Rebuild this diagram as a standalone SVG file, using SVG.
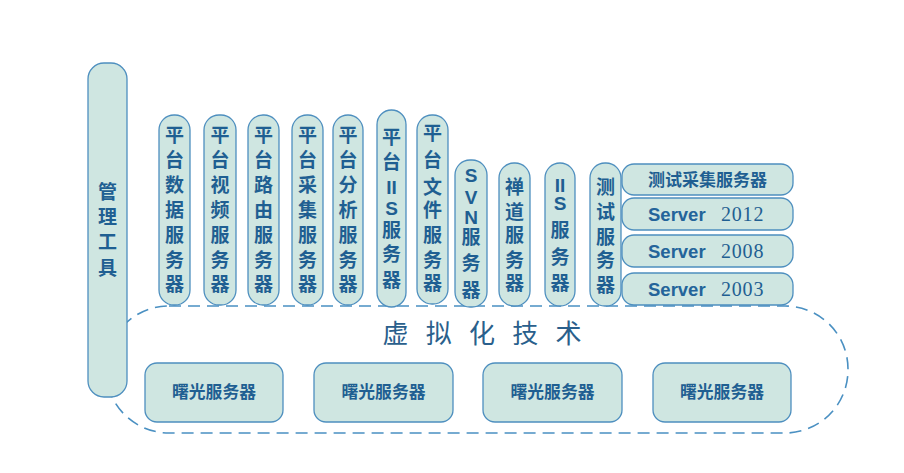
<svg xmlns="http://www.w3.org/2000/svg" width="904" height="473" viewBox="0 0 904 473">
<style>
.pill{fill:#cfe6e1;stroke:#4e8fbf;stroke-width:1.3}
.v{font-family:"Noto Sans CJK SC","Liberation Sans",sans-serif;font-weight:bold;font-size:19px;fill:#1f5f92;text-anchor:middle}
.l{font-family:"Liberation Sans","Noto Sans CJK SC",sans-serif;font-weight:bold;font-size:19px;fill:#1f5f92;text-anchor:middle}
.h{font-family:"Noto Sans CJK SC",sans-serif;font-weight:bold;font-size:17px;fill:#1f5f92;text-anchor:middle}
.srv{font-family:"Liberation Sans",sans-serif;font-weight:bold;font-size:18.5px;fill:#24649a}
.num{font-family:"Liberation Serif",serif;font-size:20px;fill:#1f5f92;letter-spacing:0.8px}
.b{font-family:"Noto Sans CJK SC",sans-serif;font-weight:bold;font-size:16.8px;fill:#1f5f92;text-anchor:middle}
.title{font-family:"Noto Sans CJK SC",sans-serif;font-size:26px;fill:#2a5f8c;text-anchor:middle}
</style>
<rect width="904" height="473" fill="#ffffff"/>
<g id="connectors">
<rect x="106" y="306" width="742" height="127" rx="63" ry="63" fill="none" stroke="#4a90c2" stroke-width="1.6" stroke-dasharray="12 7"/>
</g>
<g id="virtualization"><text class="title" y="343"><tspan x="395.5">虚</tspan><tspan x="438.8">拟</tspan><tspan x="482">化</tspan><tspan x="525.2">技</tspan><tspan x="568.5">术</tspan></text></g>
<g id="mgmt">
<rect class="pill" x="88" y="63" width="39" height="334" rx="16"/>
<text class="v" x="107.5"><tspan x="107.5" y="199">管</tspan><tspan x="107.5" y="224">理</tspan><tspan x="107.5" y="249">工</tspan><tspan x="107.5" y="275">具</tspan></text>
</g>
<g id="p1">
<rect class="pill" x="159" y="115" width="31" height="190" rx="15"/>
<text class="v"><tspan x="174.5" y="142">平</tspan><tspan x="174.5" y="167">台</tspan><tspan x="174.5" y="192">数</tspan><tspan x="174.5" y="217">据</tspan><tspan x="174.5" y="242">服</tspan><tspan x="174.5" y="267">务</tspan><tspan x="174.5" y="291">器</tspan></text>
</g>
<g id="p2">
<rect class="pill" x="204" y="115" width="32" height="190" rx="15"/>
<text class="v"><tspan x="220" y="142">平</tspan><tspan x="220" y="167">台</tspan><tspan x="220" y="192">视</tspan><tspan x="220" y="217">频</tspan><tspan x="220" y="242">服</tspan><tspan x="220" y="267">务</tspan><tspan x="220" y="291">器</tspan></text>
</g>
<g id="p3">
<rect class="pill" x="248" y="115" width="31" height="190" rx="15"/>
<text class="v"><tspan x="263.5" y="142">平</tspan><tspan x="263.5" y="167">台</tspan><tspan x="263.5" y="192">路</tspan><tspan x="263.5" y="217">由</tspan><tspan x="263.5" y="242">服</tspan><tspan x="263.5" y="267">务</tspan><tspan x="263.5" y="291">器</tspan></text>
</g>
<g id="p4">
<rect class="pill" x="292" y="115" width="31" height="190" rx="15"/>
<text class="v"><tspan x="307.5" y="142">平</tspan><tspan x="307.5" y="167">台</tspan><tspan x="307.5" y="192">采</tspan><tspan x="307.5" y="217">集</tspan><tspan x="307.5" y="242">服</tspan><tspan x="307.5" y="267">务</tspan><tspan x="307.5" y="291">器</tspan></text>
</g>
<g id="p5">
<rect class="pill" x="333" y="115" width="30" height="190" rx="15"/>
<text class="v"><tspan x="348" y="142">平</tspan><tspan x="348" y="167">台</tspan><tspan x="348" y="192">分</tspan><tspan x="348" y="217">析</tspan><tspan x="348" y="242">服</tspan><tspan x="348" y="267">务</tspan><tspan x="348" y="291">器</tspan></text>
</g>
<g id="p6">
<rect class="pill" x="377" y="110" width="29" height="197" rx="14.5"/>
<text class="v"><tspan x="391.5" y="144">平</tspan><tspan x="391.5" y="169">台</tspan></text>
<text class="l"><tspan x="391.5" y="194">II</tspan><tspan x="391.5" y="215">S</tspan></text>
<text class="v"><tspan x="391.5" y="237">服</tspan><tspan x="391.5" y="261">务</tspan><tspan x="391.5" y="287">器</tspan></text>
</g>
<g id="p7">
<rect class="pill" x="417" y="115" width="31" height="189" rx="15"/>
<text class="v"><tspan x="432.5" y="140">平</tspan><tspan x="432.5" y="167">台</tspan><tspan x="432.5" y="194">文</tspan><tspan x="432.5" y="217">件</tspan><tspan x="432.5" y="242">服</tspan><tspan x="432.5" y="267">务</tspan><tspan x="432.5" y="290">器</tspan></text>
</g>
<g id="p8">
<rect class="pill" x="455" y="160" width="32" height="147" rx="15"/>
<text class="l"><tspan x="471" y="182">S</tspan><tspan x="471" y="204">V</tspan><tspan x="471" y="224">N</tspan></text>
<text class="v"><tspan x="471" y="244">服</tspan><tspan x="471" y="270">务</tspan><tspan x="471" y="297">器</tspan></text>
</g>
<g id="p9">
<rect class="pill" x="499" y="163" width="31" height="143" rx="15"/>
<text class="v"><tspan x="514.5" y="194">禅</tspan><tspan x="514.5" y="219">道</tspan><tspan x="514.5" y="242">服</tspan><tspan x="514.5" y="267">务</tspan><tspan x="514.5" y="290">器</tspan></text>
</g>
<g id="p10">
<rect class="pill" x="545" y="163" width="30" height="143" rx="15"/>
<text class="l"><tspan x="560" y="192">II</tspan><tspan x="560" y="210">S</tspan></text>
<text class="v"><tspan x="560" y="237">服</tspan><tspan x="560" y="264">务</tspan><tspan x="560" y="290">器</tspan></text>
</g>
<g id="p11">
<rect class="pill" x="590" y="163" width="31" height="143" rx="15"/>
<text class="v"><tspan x="605.5" y="194">测</tspan><tspan x="605.5" y="219">试</tspan><tspan x="605.5" y="244">服</tspan><tspan x="605.5" y="267">务</tspan><tspan x="605.5" y="292">器</tspan></text>
</g>
<g id="r1">
<rect class="pill" x="622" y="164" width="171" height="31" rx="12"/>
<text class="h" x="707.5" y="186">测试采集服务器</text>
</g>
<g id="r2">
<rect class="pill" x="622" y="198" width="171" height="32" rx="12"/>
<text x="648" y="221"><tspan class="srv">Server</tspan><tspan class="num" x="721">2012</tspan></text>
</g>
<g id="r3">
<rect class="pill" x="622" y="235" width="171" height="32" rx="12"/>
<text x="648" y="258"><tspan class="srv">Server</tspan><tspan class="num" x="721">2008</tspan></text>
</g>
<g id="r4">
<rect class="pill" x="622" y="273" width="171" height="32" rx="12"/>
<text x="648" y="296"><tspan class="srv">Server</tspan><tspan class="num" x="721">2003</tspan></text>
</g>
<g id="b1"><rect class="pill" x="145" y="363" width="138" height="59" rx="12"/><text class="b" x="214" y="398">曙光服务器</text></g>
<g id="b2"><rect class="pill" x="314" y="363" width="139" height="59" rx="12"/><text class="b" x="383.5" y="398">曙光服务器</text></g>
<g id="b3"><rect class="pill" x="483" y="363" width="139" height="59" rx="12"/><text class="b" x="552.5" y="398">曙光服务器</text></g>
<g id="b4"><rect class="pill" x="653" y="363" width="138" height="59" rx="12"/><text class="b" x="722" y="398">曙光服务器</text></g>
</svg>
